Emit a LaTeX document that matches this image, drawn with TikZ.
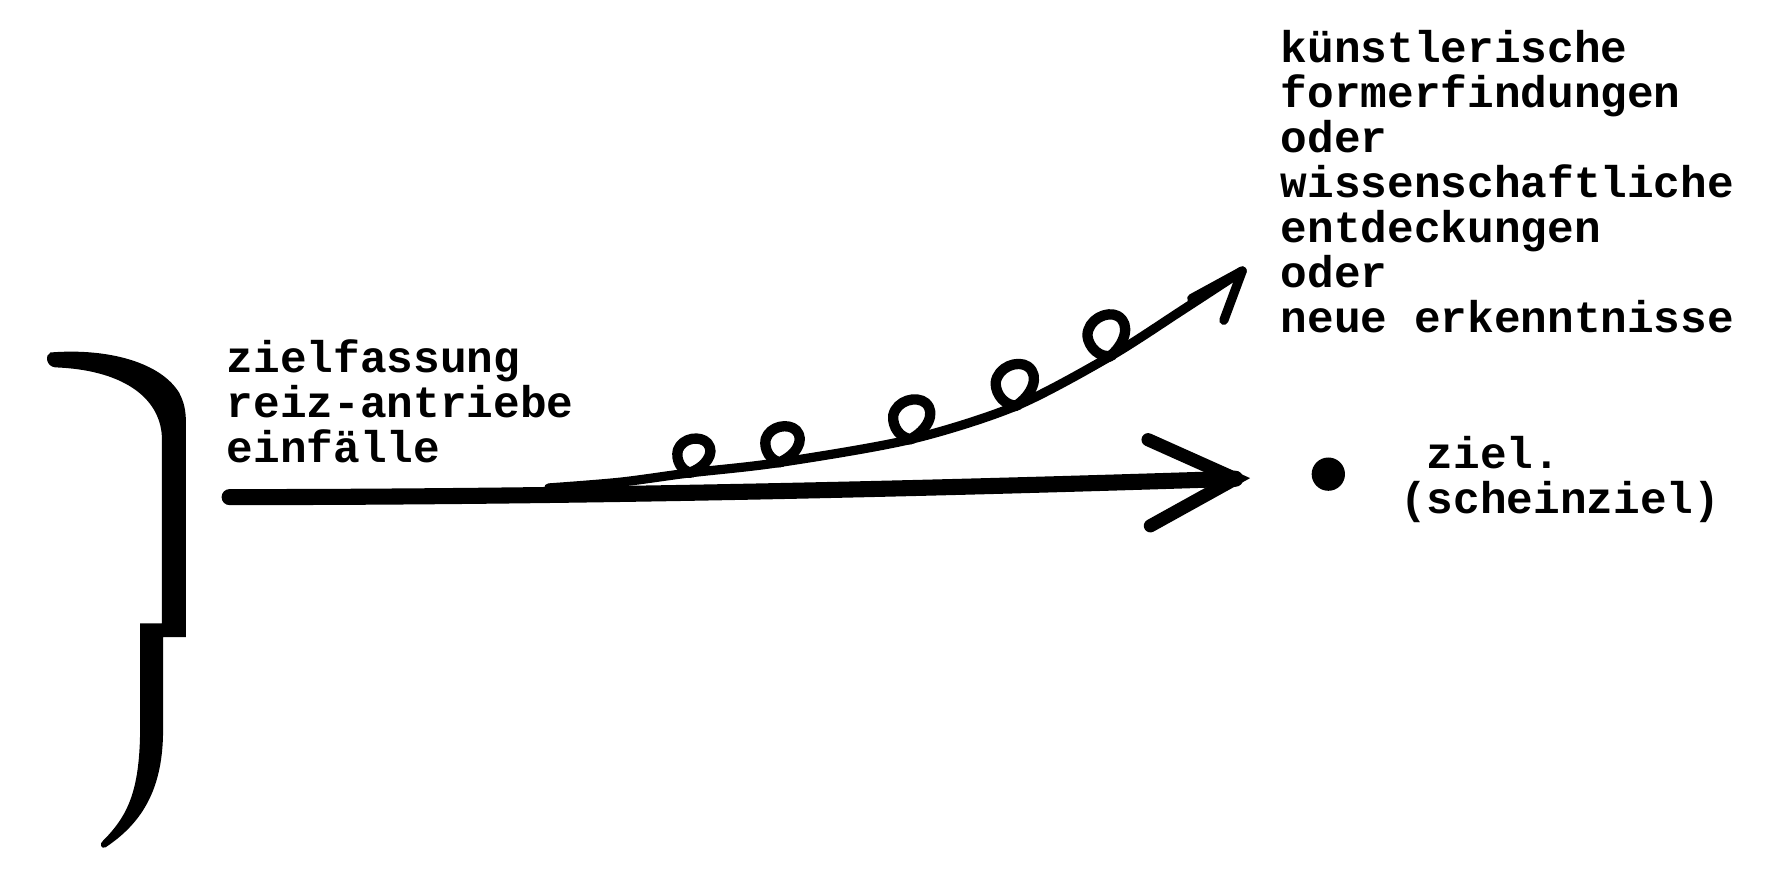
\documentclass[tikz,border=0pt]{standalone}
\usepackage{fontspec}
\setmainfont{Liberation Mono}
\begin{document}
\begin{tikzpicture}[x=0.01cm,y=-0.01cm,
  txt/.style={inner sep=0pt, anchor=base west, align=left, font=\fontsize{11}{11.16}\selectfont\bfseries},
  mainline/.style={line width=0.14cm, line cap=round},
  headline/.style={line width=0.115cm, line cap=round, line join=miter},
  wave/.style={line width=0.08cm, line cap=round, line join=round},
  loopstroke/.style={line width=0.09cm, line cap=round, line join=round}]
\useasboundingbox (0,0) rectangle (1560,764);
% brace
\fill (44,307) .. controls (95,303) and (140,316) .. (156,342)
  .. controls (160,350) and (162,356) .. (162,370) -- (162,555) -- (142,555)
  -- (142,640) .. controls (141,690) and (122,718) .. (92,738)
  .. controls (88,740) and (86,735) .. (90,732)
  .. controls (112,710) and (121,688) .. (122,640) -- (122,543) -- (141,543)
  -- (141,380) .. controls (139,345) and (105,322) .. (48,320)
  .. controls (40,319) and (39,309) .. (44,307) -- cycle;
% main arrow
\coordinate (mstart) at (200,433);
\coordinate (mtip) at (1076,417);
\coordinate (mbA) at (1000,383);
\coordinate (mbB) at (1002,458);
\draw[mainline] (mstart) .. controls (500,433) and (800,426) .. (mtip);
\draw[headline] (mbA) -- (mtip) -- (mbB);
% wavy arrow
\coordinate (wstart) at (478,425);
\coordinate (wtip) at (1082,236);
\coordinate (wbA) at (1038,260);
\coordinate (wbB) at (1066,279);
\draw[wave] plot[smooth, tension=0.5] coordinates {(478,425) (540,420) (600,412) (678,403) (792,383) (884,354) (966,311) (1030,270) (1082,236)};
\draw[wave] (wbA) -- (wtip) -- (wbB);
\foreach \x/\y/\r/\s in {600/412/6/1.05, 678/403/9/1.1, 792/383/14/1.2, 884/354/20/1.25, 966/311/26/1.25}{
  \draw[loopstroke, shift={(\x,\y)}, rotate=\r, scale=\s]
    (0,0) .. controls (14,-3) and (24,-14) .. (18,-23)
    .. controls (13,-30) and (-2,-30) .. (-7,-20)
    .. controls (-10,-12) and (-6,-2) .. (2,0);
}
% goal dot
\node[circle, fill, inner sep=0pt, minimum size=0.29cm] (dot) at (1157,413) {};
% texts
\node[txt] (left) at (197,403) {zielfassung\\reiz-antriebe\\einfälle};
\node[txt] (right) at (1115,290) {künstlerische\\formerfindungen\\oder\\wissenschaftliche\\entdeckungen\\oder\\neue erkenntnisse};
\node[txt] (ziel) at (1219,447) {\phantom{(}ziel.\\(scheinziel)};
\end{tikzpicture}
\end{document}
